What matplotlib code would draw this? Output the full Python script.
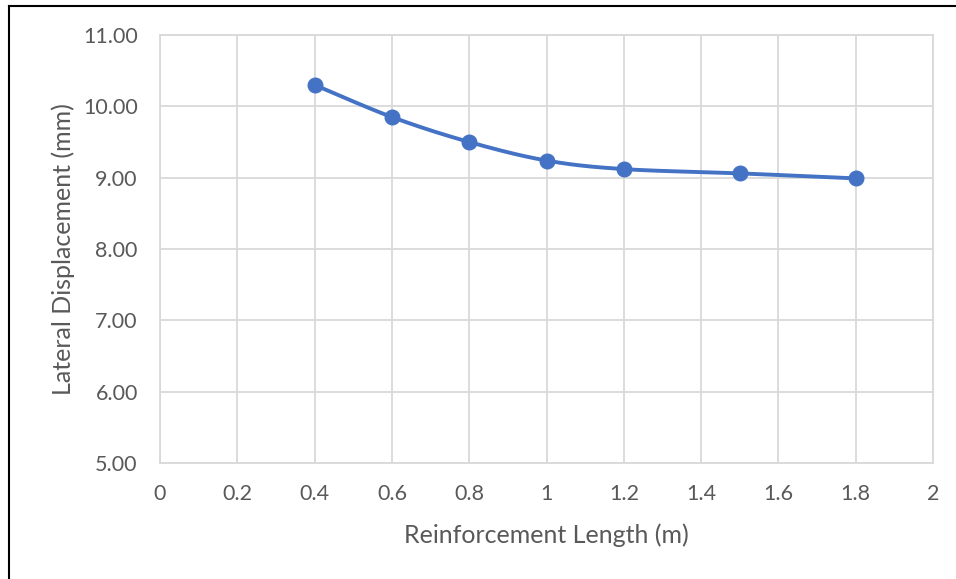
import numpy as np
import matplotlib
matplotlib.use("Agg")
import matplotlib.pyplot as plt
from matplotlib.lines import Line2D

lengths = [0.4, 0.6, 0.8, 1.0, 1.2, 1.5, 1.8]
displacement = [10.30, 9.85, 9.50, 9.24, 9.12, 9.06, 8.99]
xticks = [0, 0.2, 0.4, 0.6, 0.8, 1, 1.2, 1.4, 1.6, 1.8, 2]
xtick_labels = ["0", "0.2", "0.4", "0.6", "0.8", "1", "1.2", "1.4", "1.6", "1.8", "2"]
yticks = [5, 6, 7, 8, 9, 10, 11]
ytick_labels = ["5.00", "6.00", "7.00", "8.00", "9.00", "10.00", "11.00"]

plt.rcParams['font.family'] = ['Lato', 'DejaVu Sans']
TXT = '#595959'
GRID = '#d9d9d9'
BLUE = '#4472C4'

fig = plt.figure(figsize=(9.56, 5.79), dpi=100)
ax = fig.add_axes([160/956, 1-463/579, (933-160)/956, (463-35)/579])

# Excel-like smoothed line (Catmull-Rom bezier through the points)
def smooth(xs, ys, n=30):
    P = np.column_stack([xs, ys]).astype(float)
    out = []
    for i in range(len(P)-1):
        p0 = P[i-1] if i > 0 else P[i]
        p1, p2 = P[i], P[i+1]
        p3 = P[i+2] if i+2 < len(P) else P[i+1]
        c1 = p1 + (p2 - p0) / 6
        c2 = p2 - (p3 - p1) / 6
        t = np.linspace(0, 1, n)[:, None]
        seg = (1-t)**3*p1 + 3*(1-t)**2*t*c1 + 3*(1-t)*t**2*c2 + t**3*p2
        out.append(seg if i == 0 else seg[1:])
    return np.vstack(out)

curve = smooth(lengths, displacement)
ax.plot(curve[:, 0], curve[:, 1], color=BLUE, lw=2.8, solid_capstyle='round', zorder=3)
ax.plot(lengths, displacement, 'o', color=BLUE, ms=10.5, zorder=4)

ax.set_xlim(0, 2)
ax.set_ylim(5, 11)
ax.set_xticks(xticks)
ax.set_xticklabels(xtick_labels)
ax.set_yticks(yticks)
ax.set_yticklabels(ytick_labels)
ax.grid(True, color=GRID, lw=1.3)
ax.set_axisbelow(True)
for s in ax.spines.values():
    s.set_color(GRID)
    s.set_linewidth(1.3)
ax.tick_params(length=0, labelsize=15.5, labelcolor=TXT)
ax.tick_params(axis='x', pad=15)
ax.tick_params(axis='y', pad=16)

ax.set_xlabel("Reinforcement Length (m)", fontsize=18, color=TXT, labelpad=14)
ax.set_ylabel("Lateral Displacement (mm)", fontsize=18, color=TXT, labelpad=6)

# outer frame (left and top edges visible)
fig.add_artist(Line2D([8.5/956, 8.5/956], [0, 1-5.5/579], color='black', lw=1.5, transform=fig.transFigure))
fig.add_artist(Line2D([8.5/956, 1], [1-5.5/579, 1-5.5/579], color='black', lw=1.5, transform=fig.transFigure))

fig.savefig("out.png", dpi=100)
